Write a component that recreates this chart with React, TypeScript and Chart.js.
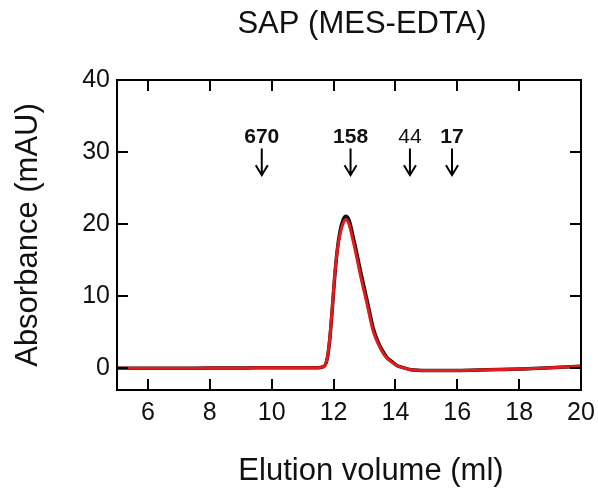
import React, { useEffect, useRef } from "react";
import { Chart, registerables } from "chart.js";

Chart.register(...registerables);

// ---- data ----
const elutionVolume = [5, 6, 7, 8, 9, 10, 11, 11.5, 11.65, 11.72, 11.8, 11.88, 11.96, 12.04, 12.12, 12.21, 12.3, 12.4, 12.5, 12.63, 12.75, 12.86, 12.97, 13.08, 13.18, 13.28, 13.39, 13.5, 13.62, 13.73, 13.9, 14.05, 14.25, 14.5, 15, 16, 17, 18, 19, 20];
const absorbanceRed = [0.0, 0.0, 0.0, 0.05, 0.05, 0.1, 0.1, 0.1, 0.2, 0.4, 1.5, 4.3, 8.5, 13.0, 16.3, 18.6, 20.0, 20.6, 20.0, 17.7, 15.4, 13.1, 11.0, 9.0, 7.0, 5.2, 3.9, 2.9, 2.0, 1.4, 0.8, 0.4, 0.1, -0.2, -0.3, -0.3, -0.2, -0.1, 0.1, 0.3];
const absorbanceBlack = [0.0, 0.0, 0.0, 0.05, 0.05, 0.1, 0.1, 0.1, 0.2, 0.4, 1.4, 4.1, 8.3, 12.8, 16.4, 19.0, 20.5, 21.1, 20.6, 18.3, 16.0, 13.7, 11.6, 9.5, 7.5, 5.6, 4.2, 3.1, 2.2, 1.5, 0.9, 0.4, 0.1, -0.2, -0.3, -0.3, -0.2, -0.1, 0.1, 0.3];

const xTicks = [6, 8, 10, 12, 14, 16, 18, 20];
const yTicks = [0, 10, 20, 30, 40];

const markerLabels = ["670", "158", "44", "17"];
const markerVolumes = [9.68, 12.55, 14.47, 15.83];
const markerBold = [true, true, false, true];
const markerLabelLevel = 31.3;
const arrowTopLevel = 30.5;
const arrowTipLevel = 26.8;

const chartTitle = "SAP (MES-EDTA)";
const xTitle = "Elution volume (ml)";
const yTitle = "Absorbance (mAU)";

const FONT = "Arial, 'Liberation Sans', Helvetica, sans-serif";
const INK = "#111";

const framePlugin = {
  id: "frameAndMarks",
  afterDatasetsDraw(chart: any) {
    const { ctx, chartArea, scales } = chart;
    const xs = scales.x;
    const ys = scales.y;
    const { left, right, top, bottom } = chartArea;
    ctx.save();
    ctx.strokeStyle = "#000";
    ctx.lineWidth = 2;
    ctx.lineCap = "butt";
    // inward ticks
    ctx.beginPath();
    xs.ticks.forEach((t: any) => {
      const px = Math.round(xs.getPixelForValue(t.value));
      ctx.moveTo(px, bottom);
      ctx.lineTo(px, bottom - 11);
      ctx.moveTo(px, top);
      ctx.lineTo(px, top + 11);
    });
    ys.ticks.forEach((t: any) => {
      const py = Math.round(ys.getPixelForValue(t.value));
      ctx.moveTo(left, py);
      ctx.lineTo(left + 11, py);
      ctx.moveTo(right, py);
      ctx.lineTo(right - 11, py);
    });
    ctx.stroke();
    // frame
    ctx.strokeRect(left, top, right - left, bottom - top);

    // markers
    ctx.fillStyle = INK;
    ctx.textAlign = "center";
    ctx.textBaseline = "alphabetic";
    markerLabels.forEach((lab, i) => {
      const px = xs.getPixelForValue(markerVolumes[i]);
      ctx.font = (markerBold[i] ? "bold " : "") + "21px " + FONT;
      ctx.fillText(lab, px, ys.getPixelForValue(markerLabelLevel));
      const yTop = ys.getPixelForValue(arrowTopLevel);
      const yTip = ys.getPixelForValue(arrowTipLevel);
      ctx.beginPath();
      ctx.lineWidth = 2;
      ctx.moveTo(px, yTop);
      ctx.lineTo(px, yTip);
      ctx.moveTo(px - 6, yTip - 10);
      ctx.lineTo(px, yTip);
      ctx.lineTo(px + 6, yTip - 10);
      ctx.stroke();
    });

    // titles
    ctx.font = "31px " + FONT;
    ctx.fillText(chartTitle, 362, 33);
    ctx.fillText(xTitle, 371, 480);
    ctx.restore();
  },
};

export default function App() {
  const ref = useRef<HTMLCanvasElement | null>(null);
  useEffect(() => {
    if (!ref.current) return;
    const chart = new Chart(ref.current, {
      type: "line",
      data: {
        datasets: [
          {
            label: "red",
            order: 0,
            data: elutionVolume.map((v, i) => ({ x: v, y: absorbanceRed[i] })),
            borderColor: "#e41a1c",
            borderWidth: 3,
            pointRadius: 0,
            cubicInterpolationMode: "monotone",
            fill: false,
          },
          {
            label: "black",
            order: 1,
            data: elutionVolume.map((v, i) => ({ x: v, y: absorbanceBlack[i] })),
            borderColor: "#111",
            borderWidth: 3.5,
            pointRadius: 0,
            cubicInterpolationMode: "monotone",
            fill: false,
          },
        ],
      },
      options: {
        responsive: false,
        animation: false,
        devicePixelRatio: 1,
        layout: { autoPadding: false, padding: { top: 80, right: 17, left: 0, bottom: 0 } },
        plugins: { legend: { display: false }, title: { display: false }, tooltip: { enabled: false } },
        scales: {
          x: {
            type: "linear",
            min: 5,
            max: 20,
            afterBuildTicks: (s: any) => {
              s.ticks = xTicks.map((v) => ({ value: v }));
            },
            afterFit: (s: any) => {
              s.height = 100;
              s.paddingLeft = 0;
              s.paddingRight = 0;
            },
            grid: { display: false, drawTicks: false },
            border: { display: false },
            ticks: {
              padding: 8,
              color: INK,
              font: { size: 25, family: FONT },
              maxRotation: 0,
              autoSkip: false,
            },
            title: { display: false },
          },
          y: {
            type: "linear",
            min: -3,
            max: 40,
            afterBuildTicks: (s: any) => {
              s.ticks = yTicks.map((v) => ({ value: v }));
            },
            afterFit: (s: any) => {
              s.width = 117;
              s.paddingTop = 0;
              s.paddingBottom = 0;
            },
            grid: { display: false, drawTicks: false },
            border: { display: false },
            ticks: {
              padding: 7,
              color: INK,
              font: { size: 25, family: FONT },
              autoSkip: false,
            },
            title: {
              display: true,
              text: yTitle,
              color: INK,
              font: { size: 31, family: FONT, weight: "normal" },
              padding: { top: 10, bottom: 0 },
            },
          },
        },
      },
      plugins: [framePlugin],
    } as any);
    return () => chart.destroy();
  }, []);
  return (
    <div style={{ position: "absolute", left: 0, top: 0, width: 598, height: 490, background: "#fff" }}>
      <canvas ref={ref} width={598} height={490} style={{ display: "block" }} />
    </div>
  );
}
